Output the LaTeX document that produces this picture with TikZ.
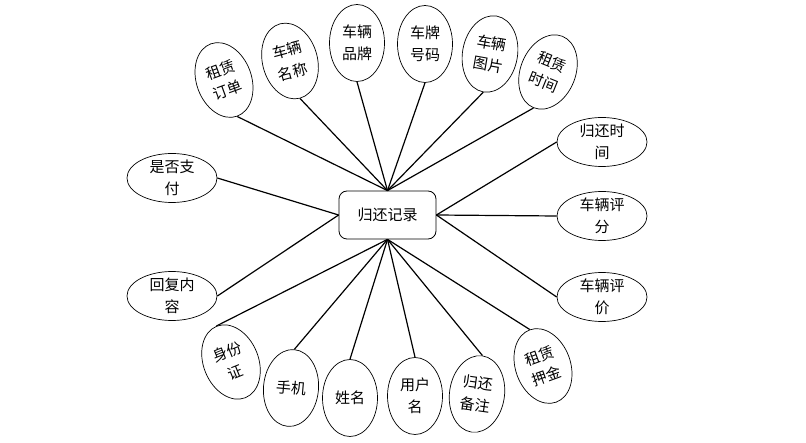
\documentclass[tikz,border=0pt]{standalone}
\usepackage{fontspec}
\newfontfamily\cjk{Noto Sans CJK SC}
\usetikzlibrary{shapes.geometric}

\begin{document}
\begin{tikzpicture}[x=1pt, y=-1pt,
    attr/.style={draw, ellipse, line width=.7pt, fill=white,
        minimum width=55pt, minimum height=77pt, inner sep=-5pt,
        align=center, font=\cjk\fontsize{15}{22}\selectfont},
    wideattr/.style={attr, minimum width=90pt, minimum height=49pt},
    entity/.style={draw, rounded corners=8pt, line width=.8pt, fill=white,
        minimum width=97pt, minimum height=48pt, inner sep=2pt,
        font=\cjk\fontsize{15}{18}\selectfont},
    link/.style={line width=1.2pt}
]
    \useasboundingbox (0,0) rectangle (806,443);

    \node[entity] (record) at (387.5,215) {归还记录};

    \node[attr, rotate=20] (order) at (224,80) {租赁\\订单};
    \node[attr, rotate=15] (carname) at (290,61) {车辆\\名称};
    \node[attr] (brand) at (357,43) {车辆\\品牌};
    \node[attr] (plate) at (425,44) {车牌\\号码};
    \node[attr, rotate=-10] (photo) at (490,54) {车辆\\图片};
    \node[attr, rotate=-22] (renttime) at (548,72) {租赁\\时间};

    \node[wideattr] (returntime) at (602,142) {归还时\\间};
    \node[wideattr] (score) at (602,216) {车辆评\\分};
    \node[wideattr] (review) at (602,297) {车辆评\\价};

    \node[wideattr] (paid) at (172,178) {是否支\\付};
    \node[wideattr] (reply) at (172,296) {回复内\\容};

    \node[attr, rotate=22] (idcard) at (231,362) {身份\\证};
    \node[attr, rotate=-5] (phone) at (291,388) {手机};
    \node[attr] (name) at (350,398) {姓名};
    \node[attr] (user) at (415,396) {用户\\名};
    \node[attr, rotate=-8] (remark) at (477,394) {归还\\备注};
    \node[attr, rotate=20] (deposit) at (543,366) {租赁\\押金};

    \draw[link] (order.south) -- (record.north);
    \draw[link] (carname.south) -- (record.north);
    \draw[link] (brand.south) -- (record.north);
    \draw[link] (plate.south) -- (record.north);
    \draw[link] (photo.south) -- (record.north);
    \draw[link] (renttime.south) -- (record.north);

    \draw[link] (returntime.west) -- (record.east);
    \draw[link] (score.west) -- (record.east);
    \draw[link] (review.west) -- (record.east);

    \draw[link] (paid.east) -- (record.west);
    \draw[link] (reply.east) -- (record.west);

    \draw[link] (idcard.north) -- (record.south);
    \draw[link] (phone.north) -- (record.south);
    \draw[link] (name.north) -- (record.south);
    \draw[link] (user.north) -- (record.south);
    \draw[link] (remark.north) -- (record.south);
    \draw[link] (deposit.north) -- (record.south);
\end{tikzpicture}
\end{document}
